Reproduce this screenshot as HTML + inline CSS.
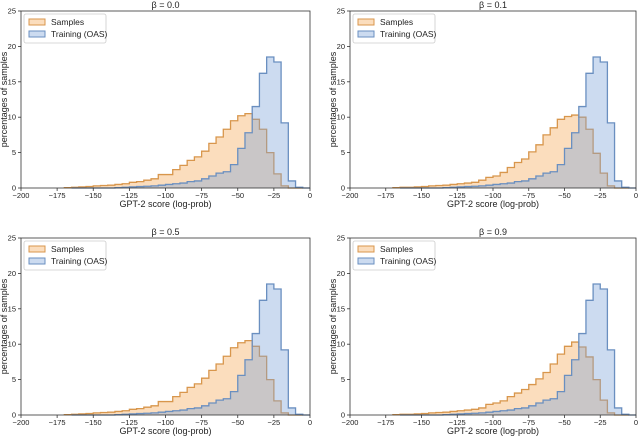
<!DOCTYPE html>
<html><head><meta charset="utf-8"><style>
body{margin:0;background:#fff;font-family:"Liberation Sans","DejaVu Sans",sans-serif;}
svg text{font-family:"Liberation Sans","DejaVu Sans",sans-serif;fill:#222;}
</style></head><body>
<svg id="fig" width="640" height="439" xmlns="http://www.w3.org/2000/svg"></svg>
<script>
const binStart = -165;
const sampleStart = -170;
const binWidth = 5;
const xTicks = [-200,-175,-150,-125,-100,-75,-50,-25,0];
const yTicks = [0,5,10,15,20,25];
const titles = ["β = 0.0","β = 0.1","β = 0.5","β = 0.9"];
// samples bins from -170 (width 5); training bins from -165
const samples0 = [0.05,0.1,0.15,0.2,0.3,0.35,0.4,0.5,0.6,0.8,0.9,1.1,1.3,1.9,1.9,2.6,3.2,3.9,4.4,5.2,6.3,7.2,8.3,9.5,10.2,10.5,9.7,8.3,5.0,2.0,0.3,0,0];
const samples1 = [0.05,0.1,0.1,0.15,0.2,0.3,0.35,0.4,0.5,0.6,0.7,0.8,1.1,1.5,1.7,2.2,2.9,3.6,4.1,5.1,6.1,7.5,8.5,9.7,10.1,10.3,10.0,8.3,4.9,2.1,0.3,0,0];
const samples2 = [0.05,0.1,0.15,0.2,0.3,0.35,0.4,0.5,0.6,0.8,0.9,1.1,1.3,1.9,1.9,2.6,3.2,3.9,4.4,5.2,6.3,7.2,8.3,9.5,10.2,10.5,9.7,8.3,5.0,2.0,0.3,0,0];
const samples3 = [0.05,0.1,0.1,0.15,0.2,0.3,0.35,0.4,0.5,0.6,0.7,0.8,1.0,1.5,1.7,2.0,2.6,3.1,3.6,4.3,5.1,6.0,7.2,8.6,9.7,10.3,9.6,8.2,5.0,2.1,0.3,0,0];
const training = [0,0,0,0,0,0,0.05,0.1,0.15,0.2,0.25,0.3,0.4,0.5,0.6,0.7,0.9,1.0,1.3,1.7,2.1,2.3,3.3,5.6,7.8,11.5,16.2,18.5,17.8,9.2,1.0,0.1,0];
const sampleSets = [samples0,samples1,samples2,samples3];
const panels = [{x0:21,x1:310,y0:11,y1:188},{x0:350,x1:636,y0:11,y1:188},{x0:21,x1:310,y0:238,y1:415},{x0:350,x1:636,y0:238,y1:415}];
const NS="http://www.w3.org/2000/svg";
const svg=document.getElementById('fig');
function mk(tag,attrs,parent){const e=document.createElementNS(NS,tag);for(const k in attrs)e.setAttribute(k,attrs[k]);(parent||svg).appendChild(e);return e;}
function stepPath(vals,start,sx,sy){
  let d=`M${sx(start)},${sy(0)}`;
  vals.forEach((v,i)=>{const a=start+i*binWidth;d+=` L${sx(a)},${sy(v)} L${sx(a+binWidth)},${sy(v)}`;});
  d+=` L${sx(start+vals.length*binWidth)},${sy(0)}`;return d;
}
panels.forEach((p,pi)=>{
  const g=mk('g',{});
  
  
  const sx=v=>p.x0+(v+200)/200*(p.x1-p.x0);
  const sy=v=>p.y1-v/25*(p.y1-p.y0);
  const sp=mk('path',{d:stepPath(sampleSets[pi],sampleStart,sx,sy),fill:'rgba(245,170,90,0.4)',stroke:'#d8964c','stroke-width':1.3},g);
  
  
  const tb=mk('path',{d:stepPath(training,binStart,sx,sy),fill:'rgba(120,160,215,0.38)',stroke:'#6a8fc0','stroke-width':1.3},g);
  
  
  const fr=mk('rect',{x:p.x0,y:p.y0,width:p.x1-p.x0,height:p.y1-p.y0,fill:'none',stroke:'#333','stroke-width':0.8},g);
  
  
  xTicks.forEach(t=>{mk('line',{x1:sx(t),x2:sx(t),y1:p.y1,y2:p.y1+3,stroke:'#333','stroke-width':0.8},g);
    const tx=mk('text',{x:sx(t),y:p.y1+10,'font-size':7.5,'text-anchor':'middle'},g);tx.textContent=t<0?'−'+(-t):t;
    
    });
  yTicks.forEach(t=>{mk('line',{x1:p.x0-3,x2:p.x0,y1:sy(t),y2:sy(t),stroke:'#333','stroke-width':0.8},g);
    const ty=mk('text',{x:p.x0-5,y:sy(t)+2.5,'font-size':7.5,'text-anchor':'end'},g);ty.textContent=t;
    
    });
  const xl=mk('text',{x:(p.x0+p.x1)/2,y:p.y1+19,'font-size':9,'text-anchor':'middle'},g);xl.textContent='GPT-2 score (log-prob)';
  
  
  const yl=mk('text',{x:0,y:0,'font-size':9,'text-anchor':'middle',transform:`translate(${p.x0-14},${(p.y0+p.y1)/2}) rotate(-90)`},g);yl.textContent='percentages of samples';
  
  
  const ti=mk('text',{x:(p.x0+p.x1)/2,y:p.y0-3,'font-size':9,'text-anchor':'middle'},g);ti.textContent=titles[pi];
  
  
  const lg=mk('g',{},g);
  
  
  mk('rect',{x:p.x0+3,y:p.y0+3,width:82,height:29,fill:'#fff',stroke:'#ccc','stroke-width':0.8,rx:2},lg);
  mk('rect',{x:p.x0+8,y:p.y0+8,width:16,height:6,fill:'rgba(245,170,90,0.4)',stroke:'#d8964c'},lg);
  mk('rect',{x:p.x0+8,y:p.y0+20,width:16,height:6,fill:'rgba(120,160,215,0.38)',stroke:'#6a8fc0'},lg);
  const l1=mk('text',{x:p.x0+30,y:p.y0+14,'font-size':8.5},lg);l1.textContent='Samples';
  
  
  const l2=mk('text',{x:p.x0+30,y:p.y0+26,'font-size':8.5},lg);l2.textContent='Training (OAS)';
  
  
});
</script>
</body></html>
